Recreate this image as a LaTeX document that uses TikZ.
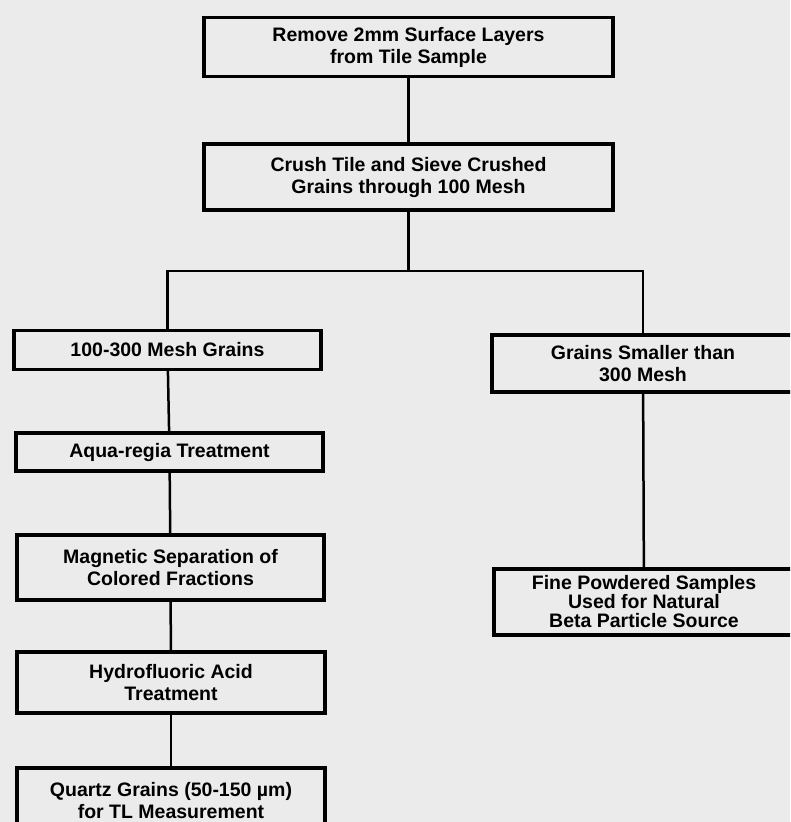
\documentclass[tikz,border=0pt]{standalone}
\usepackage{fontspec}
\setmainfont{Liberation Sans}
\begin{document}
\begin{tikzpicture}[x=1pt,y=-1pt,
		stepbox/.style={draw, line width=3.2pt, align=center, inner sep=0pt,
			font=\fontsize{19.5}{22}\selectfont\bfseries},
		link/.style={line width=2.5pt}]
				\fill[black!8] (0,0) rectangle (790,822);
				\clip (0,0) rectangle (790,822);
				% left column
				\node[stepbox, minimum width=409pt, minimum height=59pt] (remove) at (408.5,47) {Remove 2mm Surface Layers\\from Tile Sample};
				\node[stepbox, minimum width=409pt, minimum height=66pt] (crush) at (408.5,177) {Crush Tile and Sieve Crushed\\Grains through 100 Mesh};
				\node[stepbox, minimum width=307pt, minimum height=39pt] (mesh) at (167.5,350) {100-300 Mesh Grains};
				\node[stepbox, minimum width=307pt, minimum height=38pt] (aqua) at (169.5,452) {Aqua-regia Treatment};
				\node[stepbox, minimum width=307pt, minimum height=65pt] (magnetic) at (170.5,567.5) {Magnetic Separation of\\Colored Fractions};
				\node[stepbox, minimum width=308pt, minimum height=61pt] (hydro) at (171,682.5) {Hydrofluoric Acid\\Treatment};
				\node[stepbox, minimum width=308pt, minimum height=66pt] (quartz) at (171,801) {Quartz Grains (50-150 µm)\\for TL Measurement};
				% right column
				\node[stepbox, minimum width=302pt, minimum height=57pt] (smaller) at (643,363.5) {Grains Smaller than\\300 Mesh};
				\node[stepbox, minimum width=300pt, minimum height=66pt,
					font=\fontsize{19.5}{19}\selectfont\bfseries] (fine) at (644,602) {Fine Powdered Samples\\Used for Natural\\Beta Particle Source};
				\coordinate (split) at (408.5,271);
				\draw[link] (remove) -- (crush);
				\draw[link] (crush) -- (split);
				\draw[link] (mesh.north) |- (split) -| (smaller.north);
				\draw[link] (mesh) -- (aqua);
				\draw[link] (aqua) -- (magnetic);
				\draw[link] (magnetic) -- (hydro);
				\draw[link] (hydro) -- (quartz);
				\draw[link] (smaller) -- (fine);
\end{tikzpicture}
\end{document}
